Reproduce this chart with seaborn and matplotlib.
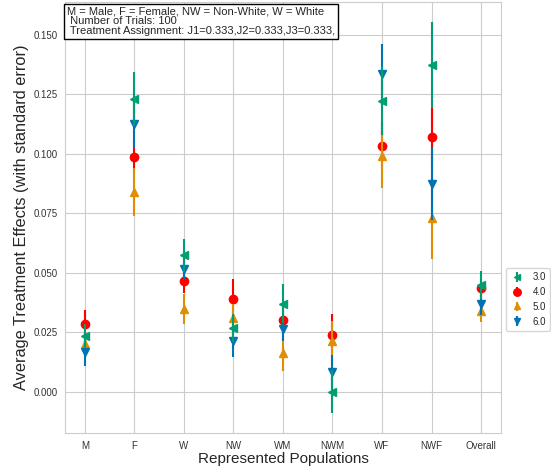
import matplotlib
matplotlib.use("Agg")
import matplotlib.pyplot as plt
import seaborn as sns
import numpy as np

populations = ["M", "F", "W", "NW", "WM", "NWM", "WF", "NWF", "Overall"]
series_labels = ["3.0", "4.0", "5.0", "6.0"]

ate_30 = [0.0235, 0.1231, 0.0573, 0.0268, 0.0370, 0.0000, 0.1223, 0.1373, 0.0449]
se_30 = [0.0050, 0.0114, 0.0070, 0.0060, 0.0081, 0.0091, 0.0142, 0.0182, 0.0060]

ate_40 = [0.0286, 0.0989, 0.0465, 0.0391, 0.0300, 0.0239, 0.1035, 0.1070, 0.0436]
se_40 = [0.0057, 0.0070, 0.0049, 0.0081, 0.0050, 0.0087, 0.0100, 0.0125, 0.0040]

ate_50 = [0.0200, 0.0838, 0.0347, 0.0310, 0.0161, 0.0214, 0.0992, 0.0731, 0.0339]
se_50 = [0.0045, 0.0101, 0.0063, 0.0060, 0.0073, 0.0085, 0.0136, 0.0171, 0.0046]

ate_60 = [0.0168, 0.1125, 0.0514, 0.0214, 0.0265, 0.0081, 0.1334, 0.0873, 0.0369]
se_60 = [0.0059, 0.0102, 0.0045, 0.0070, 0.0050, 0.0075, 0.0127, 0.0150, 0.0045]

info_text = ("M = Male, F = Female, NW = Non-White, W = White\n"
             " Number of Trials: 100\n"
             " Treatment Assignment: J1=0.333,J2=0.333,J3=0.333,")

sns.set_style("whitegrid")
plt.rcParams['font.family'] = ['Liberation Sans', 'DejaVu Sans']

pal = sns.color_palette("colorblind")
colors = [pal[2], "red", pal[1], pal[0]]
markers = ["<", "o", "^", "v"]
msizes = [5.5, 6, 5.5, 5.5]

fig = plt.figure(figsize=(5.51, 4.69), dpi=100)
ax = fig.add_axes([0.118, 0.077, 0.791, 0.918])

x = np.arange(len(populations))
all_vals = [(ate_30, se_30), (ate_40, se_40), (ate_50, se_50), (ate_60, se_60)]
zorders = [2.6, 2.0, 2.2, 2.4]
for (vals, ses), lab, c, m, ms, z in zip(all_vals, series_labels, colors, markers, msizes, zorders):
    ax.errorbar(x, vals, yerr=ses, fmt=m, color=c, ecolor=c, markersize=ms,
                elinewidth=1.5, capsize=0, label=lab, zorder=z)

ax.set_xticks(x)
ax.set_xticklabels(populations)
ax.yaxis.set_major_formatter(matplotlib.ticker.FormatStrFormatter('%.3f'))
ax.tick_params(axis='both', labelsize=7, colors='#333333', pad=2)
ax.set_xlabel("Represented Populations", fontsize=11, color='#262626', labelpad=1)
ax.set_ylabel("Average Treatment Effects (with standard error)", fontsize=11.8,
              color='#262626', labelpad=3)

ax.text(0.005, 0.99, info_text, transform=ax.transAxes, ha='left', va='top',
        fontsize=8, linespacing=0.95,
        bbox=dict(boxstyle='square,pad=0.25', facecolor='white', edgecolor='black', linewidth=1),
        zorder=5)

ax.legend(loc='center left', bbox_to_anchor=(1.0, 0.31), fontsize=7, frameon=True,
          markerscale=0.9, handlelength=1.6)

fig.savefig("out.png", dpi=100)
